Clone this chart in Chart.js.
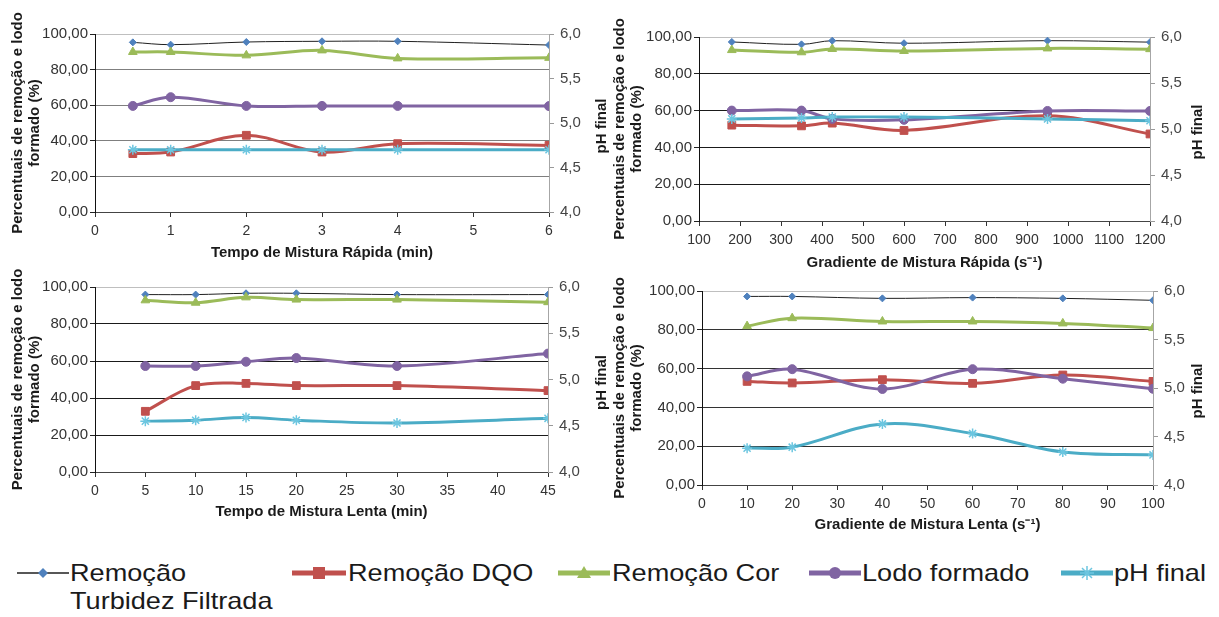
<!DOCTYPE html>
<html lang="pt">
<head>
<meta charset="utf-8">
<title>Ensaios de mistura rápida e lenta</title>
<script src="https://cdn.jsdelivr.net/npm/chart.js@4/dist/chart.umd.min.js"></script>
<style>
  html, body { margin: 0; background: #fff; }
  body { position: relative; width: 1219px; height: 617px; overflow: hidden; font-family: "Liberation Sans", Arial, sans-serif; }
  .panel { position: absolute; }
  .leg { position: absolute; font-size: 24px; line-height: 28px; color: #1a1a1a; white-space: nowrap; transform: scaleX(1.13); transform-origin: 0 0; }
  .mk { position: absolute; top: 563px; }
</style>
</head>
<body>
<div class="panel" id="p1"><canvas id="c1"></canvas></div>
<div class="panel" id="p2"><canvas id="c2"></canvas></div>
<div class="panel" id="p3"><canvas id="c3"></canvas></div>
<div class="panel" id="p4"><canvas id="c4"></canvas></div>

<!-- legenda comum -->
<svg class="mk" style="left:17px" width="52" height="20"><line x1="0" y1="10" x2="52" y2="10" stroke="#1f1f1f" stroke-width="1.5"/><polygon points="26,5 31,10 26,15 21,10" fill="#4f81bd"/></svg>
<div class="leg" style="left:70px;top:559px">Remoção<br>Turbidez Filtrada</div>
<svg class="mk" style="left:292px" width="54" height="20"><line x1="0" y1="10" x2="54" y2="10" stroke="#c0504d" stroke-width="5"/><rect x="21" y="4" width="12" height="12" fill="#c0504d"/></svg>
<div class="leg" style="left:348px;top:559px">Remoção DQO</div>
<svg class="mk" style="left:558px" width="52" height="20"><line x1="0" y1="10" x2="52" y2="10" stroke="#9bbb59" stroke-width="5"/><polygon points="26,3 33,15 19,15" fill="#9bbb59"/></svg>
<div class="leg" style="left:612px;top:559px">Remoção Cor</div>
<svg class="mk" style="left:809px" width="52" height="20"><line x1="0" y1="10" x2="52" y2="10" stroke="#8064a2" stroke-width="5"/><circle cx="26" cy="10" r="6" fill="#8064a2"/></svg>
<div class="leg" style="left:862px;top:559px">Lodo formado</div>
<svg class="mk" style="left:1061px" width="52" height="20"><line x1="0" y1="10" x2="52" y2="10" stroke="#4bacc6" stroke-width="5"/><g stroke="#6cc6e0" stroke-width="1.5"><line x1="26" y1="3" x2="26" y2="17"/><line x1="19" y1="10" x2="33" y2="10"/><line x1="21" y1="5" x2="31" y2="15"/><line x1="31" y1="5" x2="21" y2="15"/></g></svg>
<div class="leg" style="left:1114px;top:559px">pH final</div>

<script>
// Tempo de mistura rápida (min)
const tmrX = [0.5, 1, 2, 3, 4, 6];
const tmrTurbidez = [95.3, 94.0, 95.5, 95.9, 95.9, 93.8];
const tmrDqo = [32.8, 33.7, 43.1, 33.7, 38.4, 37.4];
const tmrCor = [89.9, 89.9, 88.0, 90.8, 86.3, 86.6];
const tmrLodo = [59.6, 64.5, 59.6, 59.6, 59.6, 59.5];
const tmrPh = [4.70, 4.70, 4.70, 4.70, 4.70, 4.70];

// Gradiente de mistura rápida (s-1)
const gmrX = [180, 350, 425, 600, 950, 1200];
const gmrTurbidez = [97.3, 96.0, 98.0, 96.6, 98.0, 97.2];
const gmrDqo = [52.1, 51.7, 53.2, 49.2, 57.2, 47.3];
const gmrCor = [92.9, 91.7, 93.5, 92.4, 93.8, 93.4];
const gmrLodo = [60.0, 60.0, 55.5, 55.0, 59.8, 59.8];
const gmrPh = [5.11, 5.12, 5.13, 5.13, 5.11, 5.09];

// Tempo de mistura lenta (min)
const tmlX = [5, 10, 15, 20, 30, 45];
const tmlTurbidez = [95.9, 95.9, 96.6, 96.6, 95.9, 95.9];
const tmlDqo = [32.8, 46.7, 47.9, 46.7, 46.7, 44.0];
const tmlCor = [92.8, 91.5, 94.4, 93.2, 93.2, 91.8];
const tmlLodo = [57.3, 57.3, 59.6, 61.6, 57.3, 64.0];
const tmlPh = [4.55, 4.56, 4.59, 4.56, 4.53, 4.58];

// Gradiente de mistura lenta (s-1)
const gmlX = [10, 20, 40, 60, 80, 100];
const gmlTurbidez = [97.2, 97.2, 96.2, 96.6, 96.2, 95.2];
const gmlDqo = [53.4, 52.6, 54.3, 52.4, 56.7, 53.4];
const gmlCor = [81.9, 86.0, 84.3, 84.3, 83.3, 80.9];
const gmlLodo = [56.0, 59.7, 49.5, 59.7, 54.8, 49.6];
const gmlPh = [4.38, 4.39, 4.63, 4.53, 4.34, 4.31];

const seriesNames = ['Remoção Turbidez Filtrada', 'Remoção DQO', 'Remoção Cor', 'Lodo formado', 'pH final'];

const FONT = "'Liberation Sans', Arial, sans-serif";

// tracejado de cada série (estilo Excel 2007)
const looks = [
    { line: '#1f1f1f', mark: '#4f81bd', width: 1, style: 'rectRot', r: 3.5 },
    { line: '#c0504d', mark: '#c0504d', width: 3, style: 'rect', r: 5.5 },
    { line: '#9bbb59', mark: '#9bbb59', width: 3, style: 'triangle', r: 5 },
    { line: '#8064a2', mark: '#8064a2', width: 3, style: 'circle', r: 4.5 },
    { line: '#4bacc6', mark: '#6cc6e0', width: 3, style: 'star', r: 5 }
];

// título "pH final" do eixo direito, lido de baixo para cima
const phTitle = {
    id: 'phTitle',
    afterDraw(chart, args, opts) {
        const { ctx, chartArea } = chart;
        ctx.save();
        ctx.translate(opts.x, (chartArea.top + chartArea.bottom) / 2 + 3);
        ctx.rotate(-Math.PI / 2);
        ctx.font = 'bold 15px ' + FONT;
        ctx.fillStyle = '#1a1a1a';
        ctx.textAlign = 'center';
        ctx.textBaseline = 'middle';
        ctx.fillText(opts.text, 0, 0);
        ctx.restore();
    }
};

function pts(xs, ys) {
    return xs.map((x, i) => ({ x: x, y: ys[i] }));
}

function makePanel(id, g, xs, series, xScale, xTitle, gridColor) {
    const box = document.getElementById('p' + id);
    box.style.left = g.L + 'px';
    box.style.top = g.T + 'px';
    box.style.width = g.W + 'px';
    box.style.height = g.H + 'px';

    const datasets = series.map((ys, i) => ({
        label: seriesNames[i],
        data: pts(xs, ys),
        yAxisID: i === 4 ? 'y1' : 'y',
        borderColor: looks[i].line,
        borderWidth: looks[i].width,
        pointStyle: looks[i].style,
        pointRadius: looks[i].r,
        pointBackgroundColor: looks[i].mark,
        pointBorderColor: looks[i].mark,
        pointBorderWidth: i === 4 ? 1.5 : 1,
        tension: 0.35,
        order: 5 - i
    }));

    new Chart(document.getElementById('c' + id), {
        type: 'line',
        data: { datasets: datasets },
        options: {
            responsive: true, maintainAspectRatio: false, animation: false,
            layout: { padding: { top: g.y0 - g.T, left: 0, right: 0, bottom: 0 } },
            scales: {
                x: {
                    type: 'linear', min: xScale.min, max: xScale.max,
                    afterFit: s => { s.height = g.T + g.H - g.y1; },
                    ticks: { stepSize: xScale.step, padding: 6, color: '#333', autoSkip: false,
                             maxRotation: 0, minRotation: 0, font: { family: FONT, size: 14 },
                             callback: v => String(v) },
                    grid: { drawOnChartArea: false, tickLength: 5, tickColor: '#333' },
                    border: { color: '#444', width: 1 },
                    title: { display: true, text: xTitle, color: '#1a1a1a', padding: { top: 0, bottom: g.xtPad },
                             font: { family: FONT, size: 15, weight: 'bold', lineHeight: 1.15 } }
                },
                y: {
                    position: 'left', min: 0, max: 100,
                    afterFit: s => { s.width = g.x0 - g.L; },
                    ticks: { stepSize: 20, padding: 2, color: '#333', font: { family: FONT, size: 15 },
                             callback: v => v.toFixed(2).replace('.', ',') },
                    grid: {
                        color: c => c.tick.value === 100 ? '#bfbfbf' : (c.tick.value === 0 ? 'rgba(0,0,0,0)' : gridColor),
                        tickColor: '#222', tickLength: 5, lineWidth: 1
                    },
                    border: { color: '#111', width: 1 },
                    title: { display: true, text: ['Percentuais de remoção e lodo', 'formado (%)'], color: '#1a1a1a',
                             padding: { top: g.ytPad, bottom: 0 },
                             font: { family: FONT, size: 15, weight: 'bold', lineHeight: 1.15 } }
                },
                y1: {
                    position: 'right', min: 4, max: 6,
                    afterFit: s => { s.width = g.L + g.W - g.x1; },
                    ticks: { stepSize: 0.5, padding: 6, color: '#444', font: { family: FONT, size: 15 },
                             callback: v => v.toFixed(1).replace('.', ',') },
                    grid: { drawOnChartArea: false, tickLength: 5, tickColor: '#999' },
                    border: { color: '#a6a6a6', width: 1 }
                }
            },
            plugins: {
                legend: { display: false },
                tooltip: { enabled: false },
                phTitle: { x: g.ph - g.L, text: 'pH final' }
            }
        },
        plugins: [phTitle]
    });
}

makePanel(1, { L: 0, T: 0, W: 612, H: 266, x0: 95, x1: 549, y0: 34, y1: 212, xtPad: 5, ytPad: 9, ph: 602 },
    tmrX, [tmrTurbidez, tmrDqo, tmrCor, tmrLodo, tmrPh], { min: 0, max: 6, step: 1 },
    'Tempo de Mistura Rápida (min)', '#7f7f7f');

makePanel(2, { L: 606, T: 0, W: 613, H: 275, x0: 699, x1: 1150, y0: 37, y1: 221, xtPad: 4, ytPad: 5, ph: 1198 },
    gmrX, [gmrTurbidez, gmrDqo, gmrCor, gmrLodo, gmrPh], { min: 100, max: 1200, step: 100 },
    'Gradiente de Mistura Rápida (s⁻¹)', '#1a1a1a');

makePanel(3, { L: 0, T: 262, W: 612, H: 263, x0: 95, x1: 548, y0: 287, y1: 472, xtPad: 5, ytPad: 9, ph: 602 },
    tmlX, [tmlTurbidez, tmlDqo, tmlCor, tmlLodo, tmlPh], { min: 0, max: 45, step: 5 },
    'Tempo de Mistura Lenta (min)', '#1a1a1a');

makePanel(4, { L: 606, T: 262, W: 613, H: 278, x0: 702, x1: 1153, y0: 291, y1: 485, xtPad: 7, ytPad: 5, ph: 1198 },
    gmlX, [gmlTurbidez, gmlDqo, gmlCor, gmlLodo, gmlPh], { min: 0, max: 100, step: 10 },
    'Gradiente de Mistura Lenta (s⁻¹)', '#333333');
</script>
</body>
</html>
